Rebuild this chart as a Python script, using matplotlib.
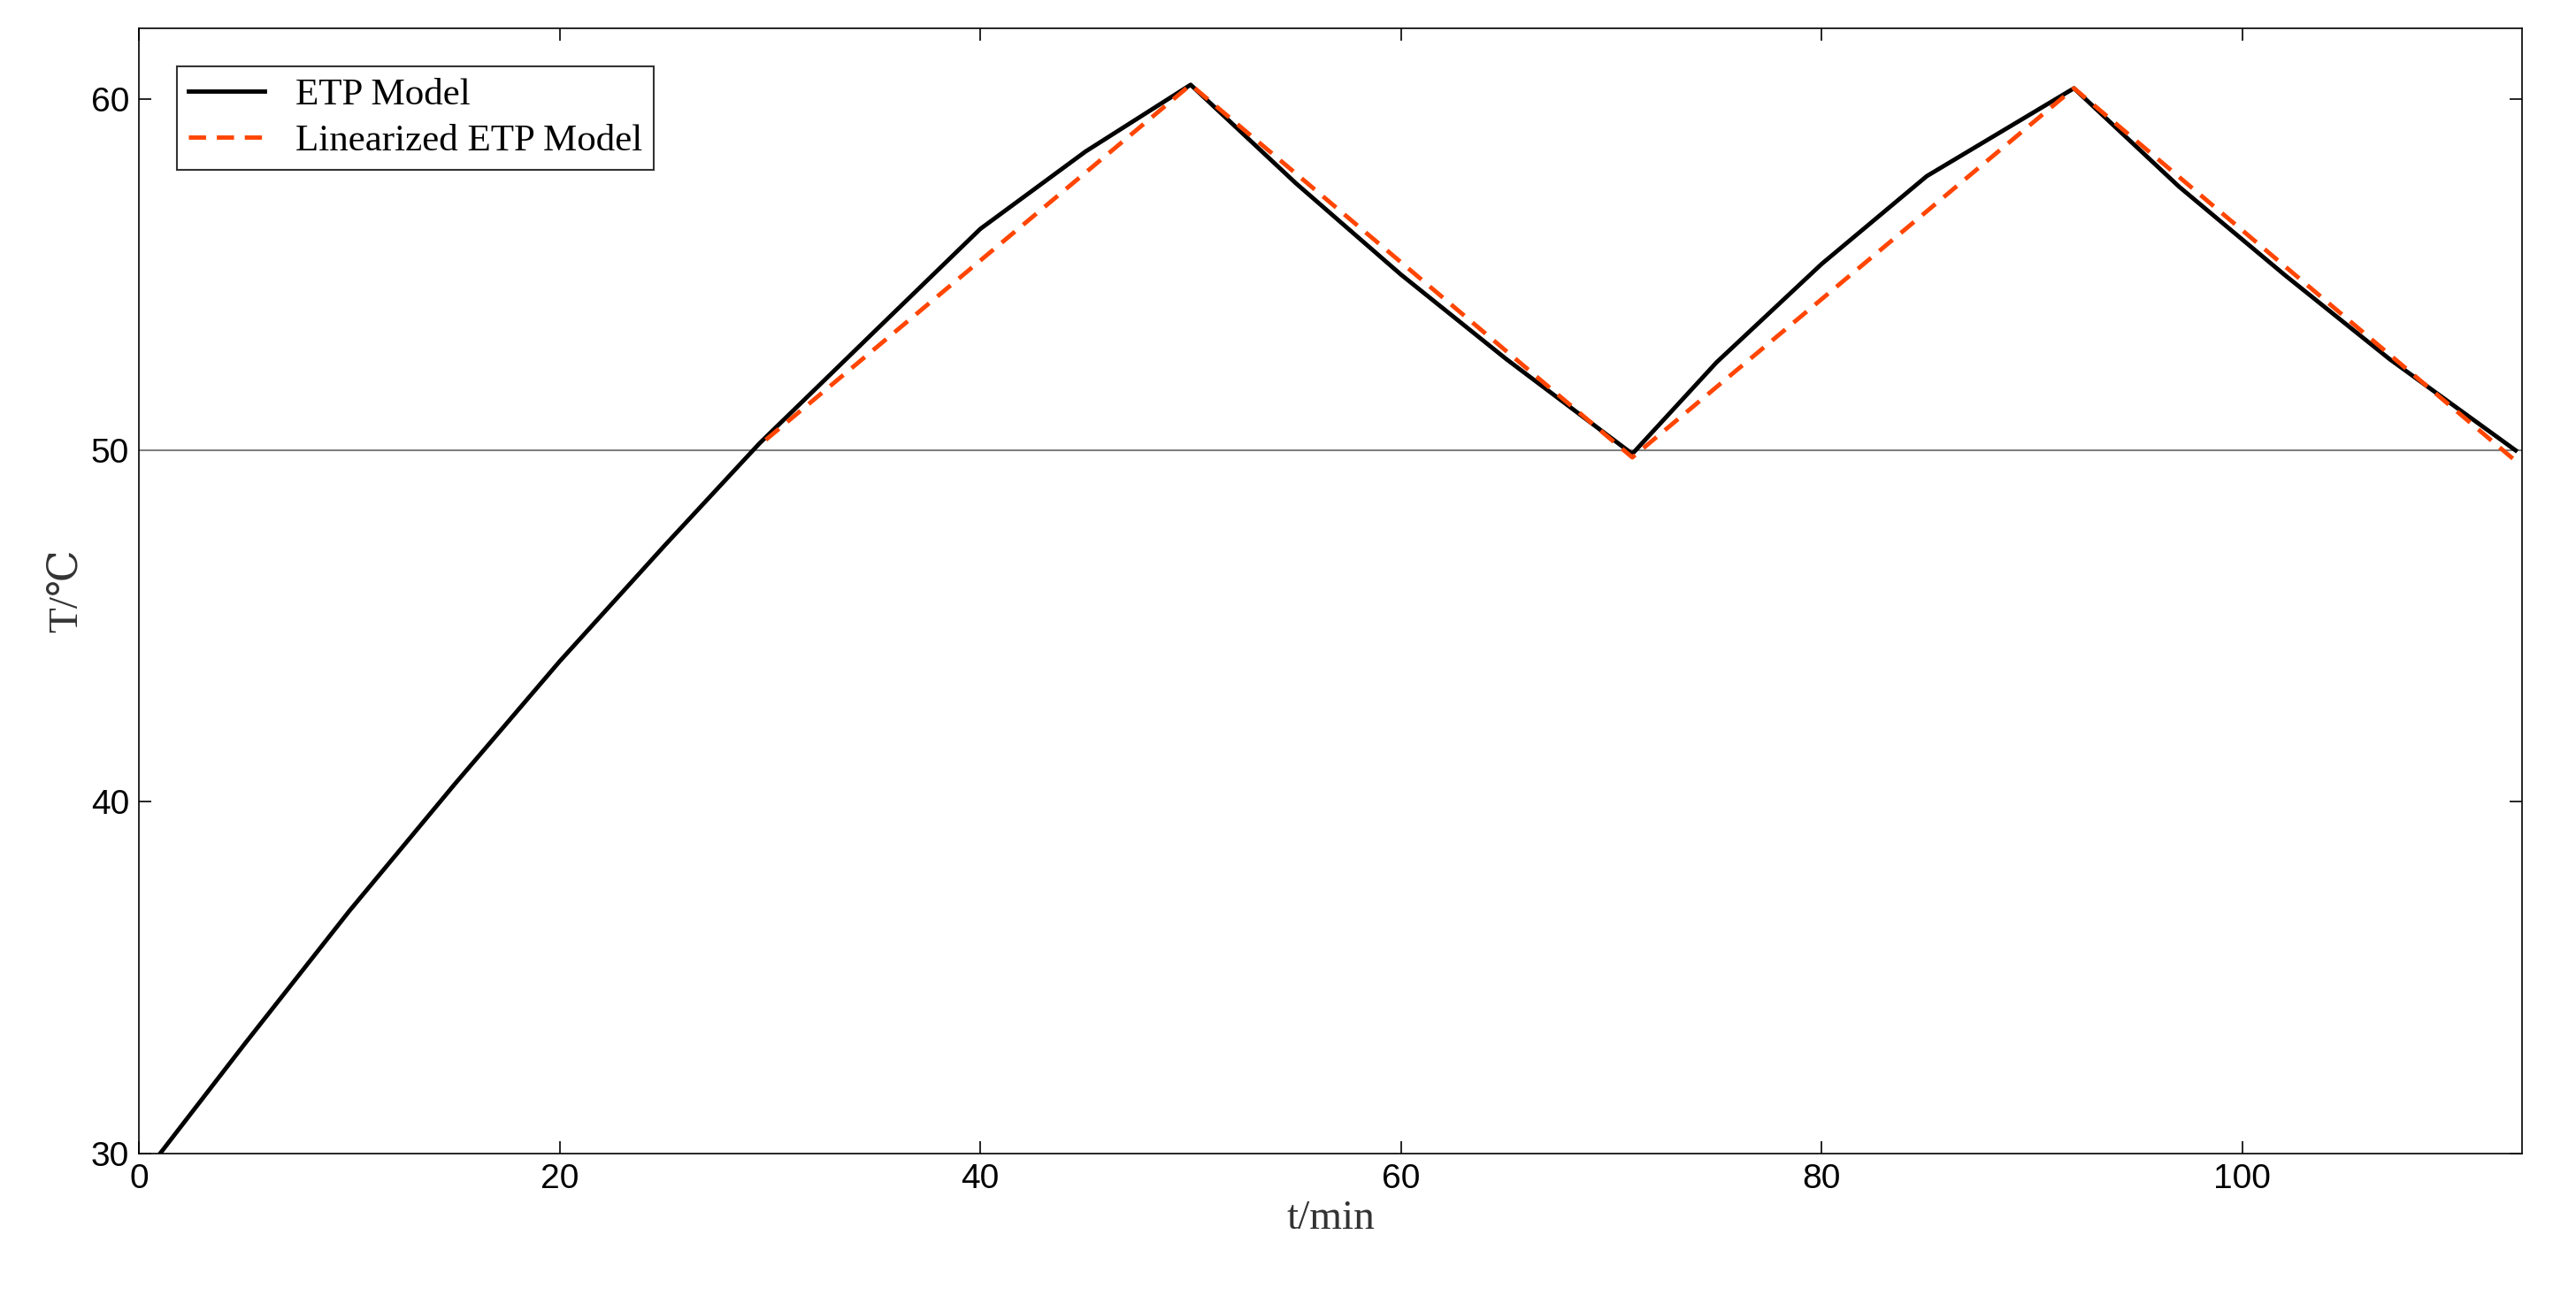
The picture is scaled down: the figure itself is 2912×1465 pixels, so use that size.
import numpy as np
import matplotlib.pyplot as plt

plt.rcParams['font.family'] = ['Liberation Serif', 'DejaVu Serif']

# ETP model
t_etp = [1, 5, 10, 15, 20, 25, 29.5, 35, 40, 45, 50,
         55, 60, 65, 71,
         75, 80, 85, 92,
         97, 102, 107, 113]
y_etp = [30, 33.1, 36.9, 40.5, 44.0, 47.3, 50.2, 53.4, 56.3, 58.5, 60.4,
         57.6, 55.0, 52.6, 49.9,
         52.5, 55.3, 57.8, 60.3,
         57.5, 55.0, 52.6, 50.0]

# Linearized ETP model
t_lin = [29.8, 50, 71, 92, 113]
y_lin = [50.3, 60.4, 49.8, 60.3, 49.7]

fig = plt.figure(figsize=(29.12, 14.65), dpi=100)
ax = fig.add_axes([0.054, 0.11, 0.925, 0.868])
ax.axhline(50, color='#808080', lw=1.5)
ax.plot(t_etp, y_etp, color='black', lw=3.5, label='ETP Model')
ax.plot(t_lin, y_lin, color='#FF4500', lw=3.5, ls=(0, (4, 2.5)), label='Linearized ETP Model')

ax.set_xlim(0, 113.3)
ax.set_ylim(30, 62)
ax.set_xticks([0, 20, 40, 60, 80, 100])
ax.set_yticks([30, 40, 50, 60])
ax.tick_params(direction='in', top=True, right=True, labelsize=28, length=10, width=1.2, pad=8)
for lab in ax.get_xticklabels() + ax.get_yticklabels():
    lab.set_family(['Liberation Sans', 'DejaVu Sans'])
for s in ax.spines.values():
    s.set_linewidth(1.2)
ax.set_xlabel('t/min', fontsize=34, color='#333333')
ax.set_ylabel('T/℃', fontsize=34, color='#333333')
leg = ax.legend(loc='upper left', fontsize=31, fancybox=False, edgecolor='black',
                handlelength=2.0, borderaxespad=1.0, borderpad=0.3, labelspacing=0.3)
leg.get_frame().set_linewidth(1.5)
fig.savefig('out.png', dpi=100)
